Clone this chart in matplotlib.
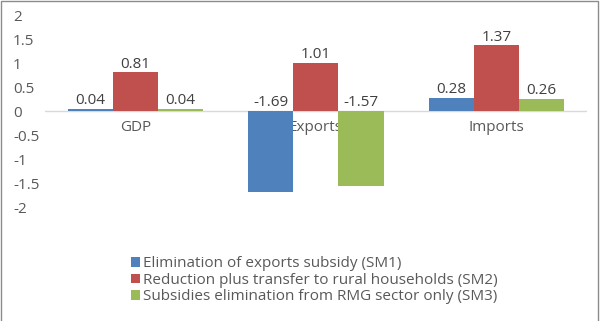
import numpy as np
import matplotlib
matplotlib.use("Agg")
import matplotlib.pyplot as plt
import matplotlib.patches as patches

categories = ["GDP", "Exports", "Imports"]
series_names = [
    "Elimination of exports subsidy (SM1)",
    "Reduction plus transfer to rural households (SM2)",
    "Subsidies elimination from RMG sector only (SM3)",
]
sm1 = [0.04, -1.69, 0.28]
sm2 = [0.81, 1.01, 1.37]
sm3 = [0.04, -1.57, 0.26]
colors = ["#4F81BD", "#C0504D", "#9BBB59"]
yticks = [2, 1.5, 1, 0.5, 0, -0.5, -1, -1.5, -2]

plt.rcParams['font.family'] = ['Open Sans', 'DejaVu Sans']
text_color = '#595959'
fs = 11

fig = plt.figure(figsize=(6, 3.21), dpi=100)
ax = fig.add_axes([0.075, 0.355, 0.903, 0.598])

x = np.arange(len(categories))
width = 0.25
for i, (vals, name, c) in enumerate(zip([sm1, sm2, sm3], series_names, colors)):
    pos = x + (i - 1) * width
    ax.bar(pos, vals, width, color=c, label=name, zorder=2)
    for px, v in zip(pos, vals):
        ax.annotate(f"{v:.2f}", (px, max(v, 0)), xytext=(0, 0.5), textcoords='offset points',
                    ha='center', va='bottom', fontsize=fs, color='#404040', zorder=3)

# zero line + category labels next to it
ax.axhline(0, color='#D9D9D9', lw=1, zorder=1)
for xi, cat in zip(x, categories):
    ax.annotate(cat, (xi, 0), xytext=(0, -6.5), textcoords='offset points',
                ha='center', va='top', fontsize=fs, color=text_color, zorder=1)

ax.set_xlim(-0.5, 2.5)
ax.set_ylim(-2, 2)
ax.set_yticks(yticks)
ax.set_yticklabels([f"{t:g}" for t in yticks], fontsize=fs, color=text_color, ha='left')
ax.tick_params(axis='y', length=0, pad=23)
ax.set_xticks([])
for s in ax.spines.values():
    s.set_visible(False)

fig.legend(loc='upper left', bbox_to_anchor=(0.205, 0.225), frameon=False, fontsize=fs,
           handlelength=0.6, handleheight=0.6, handletextpad=0.2, labelspacing=0.1,
           borderpad=0, labelcolor=text_color)

fig.add_artist(patches.Rectangle((0.001, -0.01), 0.996, 1.008, transform=fig.transFigure,
                                 fill=False, edgecolor='#8C8C8C', lw=1))

fig.savefig("out.png", dpi=100)
